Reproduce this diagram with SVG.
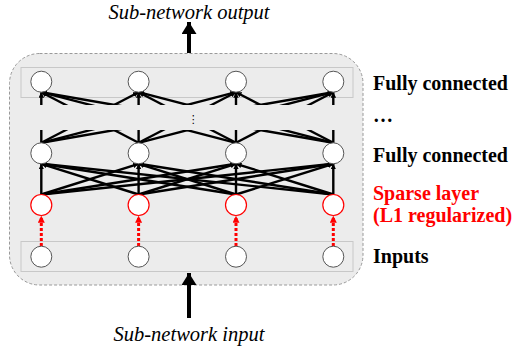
<svg xmlns="http://www.w3.org/2000/svg" width="517" height="350" viewBox="0 0 517 350">
<defs>
<style>
.node{fill:#fff;stroke:#555;stroke-width:1}
.red{fill:#fff;stroke:#ff0000;stroke-width:1.2}
.conn{stroke:#000;stroke-width:2.4;fill:none;marker-end:url(#ah)}
.sparse{stroke:#ff0000;stroke-width:3;stroke-dasharray:3 2;fill:none;marker-end:url(#rah)}
.big{stroke:#000;stroke-width:4;fill:none;marker-end:url(#bah)}
.lbl{font-family:"Liberation Serif",serif;font-weight:bold;font-size:20px;fill:#000}
.it{font-family:"Liberation Serif",serif;font-style:italic;font-size:20.5px;fill:#000;text-anchor:middle}
.box{fill:#ececec;stroke:#c8c8c8;stroke-width:1}
</style>
<marker id="ah" viewBox="0 0 6 6" refX="6" refY="3" markerWidth="5.5" markerHeight="5.5" markerUnits="userSpaceOnUse" orient="auto"><path d="M0,0 L6,3 L0,6 z" fill="#000"/></marker>
<marker id="rah" viewBox="0 0 6 6" refX="6" refY="3" markerWidth="7" markerHeight="7" markerUnits="userSpaceOnUse" orient="auto"><path d="M0,0 L6,3 L0,6 z" fill="#ff0000"/></marker>
<marker id="bah" viewBox="0 0 12 15" refX="12" refY="7.5" markerWidth="12" markerHeight="15" markerUnits="userSpaceOnUse" orient="auto"><path d="M0,0 L12,7.5 L0,15 z" fill="#000"/></marker>
</defs>
<rect width="517" height="350" fill="#fff"/>
<g id="container">
<rect x="9.5" y="53.5" width="353.5" height="231.5" rx="30" fill="#ececec" stroke="#999" stroke-width="1" stroke-dasharray="3 2"/>
<rect class="box" x="21" y="67.5" width="332" height="30"/>
<rect class="box" x="21" y="241.5" width="332" height="30"/>
</g>
<g id="connectors">
<line class="big" x1="189" y1="53" x2="189" y2="22"/>
<line class="big" x1="189" y1="318" x2="189" y2="273"/>
<line class="conn" x1="41.3" y1="142.8" x2="41.3" y2="92.2"/>
<line class="conn" x1="41.3" y1="142.8" x2="138.6" y2="92.2"/>
<line class="conn" x1="41.3" y1="142.8" x2="236" y2="92.2"/>
<line class="conn" x1="41.3" y1="142.8" x2="333.3" y2="92.2"/>
<line class="conn" x1="138.6" y1="142.8" x2="41.3" y2="92.2"/>
<line class="conn" x1="138.6" y1="142.8" x2="138.6" y2="92.2"/>
<line class="conn" x1="138.6" y1="142.8" x2="236" y2="92.2"/>
<line class="conn" x1="138.6" y1="142.8" x2="333.3" y2="92.2"/>
<line class="conn" x1="236" y1="142.8" x2="41.3" y2="92.2"/>
<line class="conn" x1="236" y1="142.8" x2="138.6" y2="92.2"/>
<line class="conn" x1="236" y1="142.8" x2="236" y2="92.2"/>
<line class="conn" x1="236" y1="142.8" x2="333.3" y2="92.2"/>
<line class="conn" x1="333.3" y1="142.8" x2="41.3" y2="92.2"/>
<line class="conn" x1="333.3" y1="142.8" x2="138.6" y2="92.2"/>
<line class="conn" x1="333.3" y1="142.8" x2="236" y2="92.2"/>
<line class="conn" x1="333.3" y1="142.8" x2="333.3" y2="92.2"/>
<rect x="25" y="105" width="325" height="25" fill="#ececec"/>
<line class="conn" x1="41.3" y1="194.5" x2="41.3" y2="163.8"/>
<line class="conn" x1="41.3" y1="194.5" x2="138.6" y2="163.8"/>
<line class="conn" x1="41.3" y1="194.5" x2="236" y2="163.8"/>
<line class="conn" x1="41.3" y1="194.5" x2="333.3" y2="163.8"/>
<line class="conn" x1="138.6" y1="194.5" x2="41.3" y2="163.8"/>
<line class="conn" x1="138.6" y1="194.5" x2="138.6" y2="163.8"/>
<line class="conn" x1="138.6" y1="194.5" x2="236" y2="163.8"/>
<line class="conn" x1="138.6" y1="194.5" x2="333.3" y2="163.8"/>
<line class="conn" x1="236" y1="194.5" x2="41.3" y2="163.8"/>
<line class="conn" x1="236" y1="194.5" x2="138.6" y2="163.8"/>
<line class="conn" x1="236" y1="194.5" x2="236" y2="163.8"/>
<line class="conn" x1="236" y1="194.5" x2="333.3" y2="163.8"/>
<line class="conn" x1="333.3" y1="194.5" x2="41.3" y2="163.8"/>
<line class="conn" x1="333.3" y1="194.5" x2="138.6" y2="163.8"/>
<line class="conn" x1="333.3" y1="194.5" x2="236" y2="163.8"/>
<line class="conn" x1="333.3" y1="194.5" x2="333.3" y2="163.8"/>
<line class="sparse" x1="41.3" y1="246" x2="41.3" y2="215.7"/>
<line class="sparse" x1="138.6" y1="246" x2="138.6" y2="215.7"/>
<line class="sparse" x1="236" y1="246" x2="236" y2="215.7"/>
<line class="sparse" x1="333.3" y1="246" x2="333.3" y2="215.7"/>
</g>
<g id="ellipsis">
<text x="193.3" y="122.5" font-family="DejaVu Sans, sans-serif" font-size="11" text-anchor="middle" fill="#000">⋮</text>
</g>
<g id="layer-fc-top">
<circle class="node" cx="41.3" cy="81.7" r="10.5"/>
<circle class="node" cx="138.6" cy="81.7" r="10.5"/>
<circle class="node" cx="236" cy="81.7" r="10.5"/>
<circle class="node" cx="333.3" cy="81.7" r="10.5"/>
</g>
<g id="layer-fc">
<circle class="node" cx="41.3" cy="153.3" r="10.5"/>
<circle class="node" cx="138.6" cy="153.3" r="10.5"/>
<circle class="node" cx="236" cy="153.3" r="10.5"/>
<circle class="node" cx="333.3" cy="153.3" r="10.5"/>
</g>
<g id="layer-sparse">
<circle class="red" cx="41.3" cy="205" r="10.5"/>
<circle class="red" cx="138.6" cy="205" r="10.5"/>
<circle class="red" cx="236" cy="205" r="10.5"/>
<circle class="red" cx="333.3" cy="205" r="10.5"/>
</g>
<g id="layer-inputs">
<circle class="node" cx="41.3" cy="256.7" r="10.5"/>
<circle class="node" cx="138.6" cy="256.7" r="10.5"/>
<circle class="node" cx="236" cy="256.7" r="10.5"/>
<circle class="node" cx="333.3" cy="256.7" r="10.5"/>
</g>
<g id="labels">
<text class="it" x="189" y="19">Sub-network output</text>
<text class="it" x="189" y="341">Sub-network input</text>
<text class="lbl" x="373" y="90">Fully connected</text>
<text class="lbl" x="373" y="122">…</text>
<text class="lbl" x="373" y="162">Fully connected</text>
<text class="lbl" x="373" y="200" style="fill:#ff0000">Sparse layer</text>
<text class="lbl" x="373" y="222" style="fill:#ff0000">(L1 regularized)</text>
<text class="lbl" x="373" y="263">Inputs</text>
</g>
</svg>
